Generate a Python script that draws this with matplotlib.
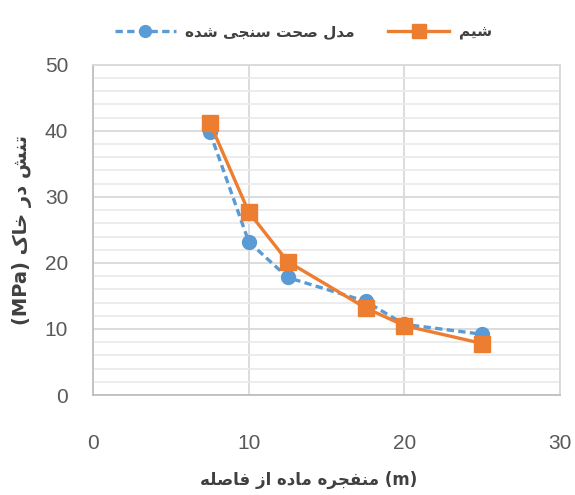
import numpy as np
import matplotlib
matplotlib.use('Agg')
import matplotlib.pyplot as plt
from matplotlib.ticker import MultipleLocator

# data
distance = [7.5, 10, 12.5, 17.5, 20, 25]
validated = [39.8, 23.2, 17.8, 14.2, 10.7, 9.2]
shim = [41.2, 27.7, 20.2, 13.2, 10.5, 7.8]

blue = '#5B9BD5'
orange = '#ED7D31'
gray = '#595959'

# minimal persian shaping: (isolated, final, initial, medial); None = joins right only
FORMS = {
    'ا': ('\uFE8D', '\uFE8E', None, None),
    'ت': ('\uFE95', '\uFE96', '\uFE97', '\uFE98'),
    'ج': ('\uFE9D', '\uFE9E', '\uFE9F', '\uFEA0'),
    'ح': ('\uFEA1', '\uFEA2', '\uFEA3', '\uFEA4'),
    'خ': ('\uFEA5', '\uFEA6', '\uFEA7', '\uFEA8'),
    'د': ('\uFEA9', '\uFEAA', None, None),
    'ر': ('\uFEAD', '\uFEAE', None, None),
    'ز': ('\uFEAF', '\uFEB0', None, None),
    'س': ('\uFEB1', '\uFEB2', '\uFEB3', '\uFEB4'),
    'ش': ('\uFEB5', '\uFEB6', '\uFEB7', '\uFEB8'),
    'ص': ('\uFEB9', '\uFEBA', '\uFEBB', '\uFEBC'),
    'ف': ('\uFED1', '\uFED2', '\uFED3', '\uFED4'),
    'ل': ('\uFEDD', '\uFEDE', '\uFEDF', '\uFEE0'),
    'م': ('\uFEE1', '\uFEE2', '\uFEE3', '\uFEE4'),
    'ن': ('\uFEE5', '\uFEE6', '\uFEE7', '\uFEE8'),
    'ه': ('\uFEE9', '\uFEEA', '\uFEEB', '\uFEEC'),
    'ک': ('\uFB8E', '\uFB8F', '\uFB90', '\uFB91'),
    'ی': ('\uFBFC', '\uFBFD', '\uFBFE', '\uFBFF'),
}


def shape(s):
    out = []
    for i, c in enumerate(s):
        if c not in FORMS:
            out.append(c)
            continue
        f = FORMS[c]
        prev = s[i - 1] if i > 0 else ''
        nxt = s[i + 1] if i + 1 < len(s) else ''
        join_prev = prev in FORMS and FORMS[prev][2] is not None
        join_next = nxt in FORMS and f[2] is not None
        if join_prev and join_next:
            out.append(f[3])
        elif join_prev:
            out.append(f[1])
        elif join_next:
            out.append(f[2])
        else:
            out.append(f[0])
    return ''.join(out)


def rtl(s):
    return shape(s)[::-1]


plt.rcParams['font.family'] = ['Liberation Sans', 'DejaVu Sans']

fig = plt.figure(figsize=(5.75, 4.95), dpi=100)
ax = fig.add_axes([0.162, 0.202, 0.812, 0.667])

ax.plot(distance, validated, '--o', color=blue, lw=2.4, ms=10, dashes=(2.2, 1.3),
        label=rtl('مدل صحت سنجی شده'), zorder=3)
ax.plot(distance, shim, '-s', color=orange, lw=2.4, ms=11.5,
        label=rtl('شیم'), zorder=4)

ax.set_xlim(0, 30)
ax.set_ylim(0, 50)
ax.xaxis.set_major_locator(MultipleLocator(10))
ax.yaxis.set_major_locator(MultipleLocator(10))
ax.yaxis.set_minor_locator(MultipleLocator(2))
ax.grid(which='major', color='#d9d9d9', lw=1.3)
ax.grid(which='minor', axis='y', color='#ebebeb', lw=1.3)
ax.set_axisbelow(True)
ax.tick_params(which='both', length=0)
ax.tick_params(axis='x', pad=28, labelsize=15, labelcolor=gray)
ax.tick_params(axis='y', pad=18, labelsize=15, labelcolor=gray)
for side in ['left', 'bottom']:
    ax.spines[side].set_color('#bfbfbf')
    ax.spines[side].set_linewidth(1.3)
for side in ['top', 'right']:
    ax.spines[side].set_color('#d9d9d9')
    ax.spines[side].set_linewidth(1.3)

ax.set_ylabel('(MPa) ' + rtl('تنش در خاک'), family='DejaVu Sans', fontsize=14,
              fontweight='bold', color='#404040')
ax.yaxis.set_label_coords(-0.13, 0.5)
xl = ' '.join(rtl(w) for w in ['فاصله', 'از', 'ماده', 'منفجره']) + ' (m)'
ax.set_xlabel(xl, family='DejaVu Sans', fontsize=12, fontweight='bold',
              color='#404040')
ax.xaxis.set_label_coords(0.462, -0.23)

ax.legend(loc='lower center', bbox_to_anchor=(0.45, 1.035), ncol=2, frameon=False,
          prop={'family': 'DejaVu Sans', 'size': 11, 'weight': 'bold'},
          handlelength=4, handletextpad=0.6, columnspacing=2.2,
          labelcolor='#404040', markerscale=0.85)

fig.savefig('out.png', dpi=100)
